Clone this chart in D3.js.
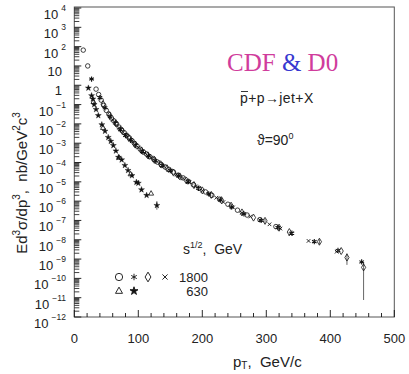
<!DOCTYPE html>
<html>
<head>
<meta charset="utf-8">
<script src="https://cdn.jsdelivr.net/npm/d3@7"></script>
<style>
  html, body { margin: 0; padding: 0; background: #fff; }
  svg text { font-family: "Liberation Sans", Arial, sans-serif; fill: #222; }
</style>
</head>
<body>
<div id="chart"></div>
<script>
// sqrt(s) = 1800 GeV, four data sets
const circlePt = [14, 21, 34, 38, 42, 46, 50, 54, 58, 62, 66, 70, 74, 78, 82, 86, 90, 94, 98, 103, 108, 113, 118, 124, 130, 136, 142, 148, 155, 162, 170, 178, 186, 195, 205, 215, 227, 240, 255, 270, 290, 315];
const circleVal = [66, 10, 0.63, 0.33, 0.17, 0.091, 0.05, 0.032, 0.020, 0.014, 0.010, 6.8e-3, 4.8e-3, 3.5e-3, 2.5e-3, 1.9e-3, 1.35e-3, 9.8e-4, 7.1e-4, 4.9e-4, 3.5e-4, 2.7e-4, 2.0e-4, 1.5e-4, 1.05e-4, 7.8e-5, 5.8e-5, 4.4e-5, 3.2e-5, 2.2e-5, 1.6e-5, 1.07e-5, 7.1e-6, 4.6e-6, 3.0e-6, 2.0e-6, 1.26e-6, 6.9e-7, 3.4e-7, 1.9e-7, 1.1e-7, 4.8e-8];

const asteriskPt = [27, 40, 48, 56, 64, 72, 80, 88, 96, 106, 116, 126, 137, 150, 163, 178, 194, 210, 228, 246, 265, 292, 318, 340, 375, 412, 449];
const asteriskVal = [2.1, 0.23, 0.068, 0.024, 0.011, 5.0e-3, 2.5e-3, 1.5e-3, 8.0e-4, 3.9e-4, 2.2e-4, 1.26e-4, 7.1e-5, 3.8e-5, 2.0e-5, 1.02e-5, 4.6e-6, 2.4e-6, 1.15e-6, 5.0e-7, 2.2e-7, 1.0e-7, 4.3e-8, 2.2e-8, 8.0e-9, 2.8e-9, 7.1e-10];

const diamondPt = [45, 55, 65, 75, 85, 95, 105, 115, 125, 135, 145, 155, 165, 175, 187, 200, 214, 230, 245, 262, 280, 298, 320, 336, 383, 417, 426, 452];
const diamondVal = [0.105, 0.028, 0.0107, 4.3e-3, 1.9e-3, 8.5e-4, 4.2e-4, 2.35e-4, 1.38e-4, 8.1e-5, 5.0e-5, 3.0e-5, 1.9e-5, 1.17e-5, 6.8e-6, 3.6e-6, 2.1e-6, 1.12e-6, 5.8e-7, 2.6e-7, 1.4e-7, 9.5e-8, 4.2e-8, 2.5e-8, 7.9e-9, 2.6e-9, 1.2e-9, 3.7e-10];
const diamondLo = [null, null, null, null, null, null, null, null, null, null, null, null, null, null, null, null, null, null, null, null, null, 7.5e-8, null, null, 5.6e-9, null, 5.0e-10, 7.6e-12];
const diamondHi = [null, null, null, null, null, null, null, null, null, null, null, null, null, null, null, null, null, null, null, null, null, 1.2e-7, null, null, 1.05e-8, null, 2.0e-9, 7.1e-10];

const crossPt = [60, 70, 80, 90, 100, 110, 120, 130, 140, 150, 160, 170, 180, 190, 200, 211, 222, 233, 248, 262, 275, 290, 305, 322, 338, 366, 410];
const crossVal = [0.016, 6.3e-3, 2.8e-3, 1.26e-3, 6.0e-4, 3.2e-4, 1.8e-4, 1.07e-4, 6.3e-5, 3.8e-5, 2.4e-5, 1.5e-5, 9.3e-6, 5.8e-6, 3.5e-6, 2.3e-6, 1.5e-6, 8.9e-7, 4.7e-7, 2.5e-7, 1.6e-7, 1.05e-7, 6.3e-8, 3.8e-8, 2.0e-8, 8.7e-9, 2.4e-9];

// sqrt(s) = 630 GeV
const starPt = [22, 27, 29, 31, 34, 37.5, 43, 48, 53, 57, 61, 65, 69, 74, 79, 84, 90, 97, 100, 105, 113, 129];
const starVal = [0.72, 0.29, 0.195, 0.1, 0.056, 0.027, 9.1e-3, 4.2e-3, 2.0e-3, 1.26e-3, 7.6e-4, 4.0e-4, 1.86e-4, 1.38e-4, 7.1e-5, 3.9e-5, 2.1e-5, 9.5e-6, 8.5e-6, 3.9e-6, 2.0e-6, 6.0e-7];
const starLo = [null, null, null, null, null, null, null, null, null, null, null, null, null, null, null, null, null, null, null, null, null, 3.6e-7];
const starHi = [null, null, null, null, null, null, null, null, null, null, null, null, null, null, null, null, null, null, null, null, null, 1.0e-6];

const trianglePt = [30, 45, 70, 88, 120];
const triangleVal = [0.14, 6.3e-3, 1.8e-4, 2.5e-5, 2.5e-6];

const xTicks = [0, 100, 200, 300, 400, 500];
const yExponents = d3.range(-12, 5);

const width = 409, height = 374;
const margin = { top: 8, right: 15, bottom: 57, left: 74.3 };
const plotW = 394.3 - margin.left;

const svg = d3.select('#chart').append('svg')
  .attr('width', width)
  .attr('height', height);

const x = d3.scaleLinear().domain([0, 500]).range([margin.left, margin.left + plotW]);
const y = d3.scaleLog().domain([1e-12, 1e4]).range([317, 8]);

// frame
svg.append('rect')
  .attr('x', x(0)).attr('y', 7)
  .attr('width', x(500) - x(0)).attr('height', 317 - 7)
  .attr('fill', 'none').attr('stroke', '#555').attr('stroke-width', 1);

// y ticks: decades and 2..9 minors
const yTickG = svg.append('g');
yExponents.forEach(e => {
  const base = Math.pow(10, e);
  yTickG.append('line')
    .attr('x1', x(0)).attr('x2', x(0) + 7)
    .attr('y1', y(base)).attr('y2', y(base))
    .attr('stroke', '#111').attr('stroke-width', 0.9);
  if (e < 4) {
    d3.range(2, 10).forEach(m => {
      yTickG.append('line')
        .attr('x1', x(0)).attr('x2', x(0) + 5)
        .attr('y1', y(m * base)).attr('y2', y(m * base))
        .attr('stroke', '#111').attr('stroke-width', 0.8);
    });
  }
});

// y labels
yExponents.forEach(e => {
  const ty = y(Math.pow(10, e));
  if (e === 0 || e === 1) {
    svg.append('text')
      .attr('x', 62).attr('y', ty + 10)
      .attr('text-anchor', 'end')
      .attr('font-size', 13)
      .text(e === 0 ? '1' : '10');
  } else {
    const t = svg.append('text')
      .attr('x', 66).attr('y', ty + 11)
      .attr('text-anchor', 'end')
      .attr('font-size', 13);
    t.append('tspan').text('10');
    t.append('tspan')
      .attr('dx', 3).attr('dy', -8)
      .attr('font-size', 8.5)
      .text(e < 0 ? '\u2212' + (-e) : e);
  }
});

// x ticks
const xTickG = svg.append('g');
d3.range(0, 501, 20).forEach(v => {
  const major = v % 100 === 0;
  xTickG.append('line')
    .attr('x1', x(v)).attr('x2', x(v))
    .attr('y1', 317).attr('y2', 317 - (major ? 7 : 4))
    .attr('stroke', '#111').attr('stroke-width', 0.9);
});
svg.selectAll('.xlab').data(xTicks).enter().append('text')
  .attr('class', 'xlab')
  .attr('x', d => x(d)).attr('y', 343)
  .attr('text-anchor', 'middle')
  .attr('font-size', 13)
  .text(d => d);

// axis titles
const xt = svg.append('text')
  .attr('x', 233).attr('y', 367)
  .attr('font-size', 15);
xt.append('tspan').text('p');
xt.append('tspan').attr('font-size', 10).attr('dy', 2).text('T');
xt.append('tspan').attr('dy', -2).text(',\u00a0\u00a0GeV/c');

const yt = svg.append('text')
  .attr('transform', 'translate(27,183) rotate(-90)')
  .attr('text-anchor', 'middle')
  .attr('font-size', 15);
[['Ed', 0], ['3', 1], ['\u03c3/dp', 0], ['3', 1], [',\u00a0\u00a0nb/GeV', 0], ['2', 1], ['c', 0], ['3', 1]].forEach(([s, sup], i, arr) => {
  const prevSup = i > 0 ? arr[i - 1][1] : 0;
  yt.append('tspan')
    .attr('font-size', sup ? 10 : 15)
    .attr('dy', sup ? -7 : (prevSup ? 7 : 0))
    .text(s);
});

// symbol types
const openCircle = { draw(c, s) { const r = Math.sqrt(s / Math.PI); c.moveTo(r, 0); c.arc(0, 0, r, 0, 2 * Math.PI); } };
const diamondT = { draw(c, s) { const r = Math.sqrt(s) * 0.75; c.moveTo(0, -r); c.lineTo(r * 0.6, 0); c.lineTo(0, r); c.lineTo(-r * 0.6, 0); c.closePath(); } };
const crossT = { draw(c, s) { const r = Math.sqrt(s) * 0.4; c.moveTo(-r, -r); c.lineTo(r, r); c.moveTo(r, -r); c.lineTo(-r, r); } };
const asteriskT = { draw(c, s) { const r = Math.sqrt(s) * 0.5; for (let k = 0; k < 3; k++) { const a = Math.PI / 2 + k * Math.PI / 3; c.moveTo(r * Math.cos(a), r * Math.sin(a)); c.lineTo(-r * Math.cos(a), -r * Math.sin(a)); } } };
const triangleT = { draw(c, s) { const r = Math.sqrt(s) * 0.6; c.moveTo(0, -r); c.lineTo(r * 0.9, r * 0.6); c.lineTo(-r * 0.9, r * 0.6); c.closePath(); } };

function errorBars(pts, lo, hi) {
  svg.append('g').selectAll('line')
    .data(pts.map((p, i) => [p, lo[i], hi[i]]).filter(d => d[1] != null))
    .enter().append('line')
    .attr('x1', d => x(d[0])).attr('x2', d => x(d[0]))
    .attr('y1', d => y(d[1])).attr('y2', d => y(d[2]))
    .attr('stroke', '#555').attr('stroke-width', 0.9);
}
errorBars(diamondPt, diamondLo, diamondHi);
errorBars(starPt, starLo, starHi);

function series(pts, vals, type, size, filled, sw) {
  const sym = d3.symbol().type(type).size(size);
  svg.append('g').selectAll('path')
    .data(pts.map((p, i) => [p, vals[i]]))
    .enter().append('path')
    .attr('transform', d => `translate(${x(d[0])},${y(d[1])})`)
    .attr('d', sym)
    .attr('fill', filled ? '#111' : 'none')
    .attr('stroke', '#111')
    .attr('stroke-width', sw);
}
series(circlePt, circleVal, openCircle, 16, false, 0.8);
series(diamondPt, diamondVal, diamondT, 22, false, 0.8);
series(crossPt, crossVal, crossT, 20, false, 0.9);
series(asteriskPt, asteriskVal, asteriskT, 28, false, 1.1);
series(trianglePt, triangleVal, triangleT, 22, false, 0.8);
series(starPt, starVal, d3.symbolStar, 11, true, 0.4);

// annotations
const title = svg.append('text')
  .attr('x', 227).attr('y', 71)
  .style('font-family', '"Liberation Serif", "Times New Roman", serif')
  .attr('font-size', 25);
title.append('tspan').style('fill', '#d03c9c').text('CDF ');
title.append('tspan').style('fill', '#3838d0').text('&');
title.append('tspan').style('fill', '#d03c9c').text(' D0');

const react = svg.append('text')
  .attr('x', 240).attr('y', 103)
  .attr('font-size', 14)
  .style('letter-spacing', '0.4px');
react.append('tspan').text('p');
react.append('tspan').text('+p\u2192jet+X');
svg.append('line')
  .attr('x1', 241).attr('x2', 248).attr('y1', 91.5).attr('y2', 91.5)
  .attr('stroke', '#222').attr('stroke-width', 0.9);

const ang = svg.append('text')
  .attr('x', 257).attr('y', 145)
  .attr('font-size', 14);
ang.append('tspan').text('\u03d1=90');
ang.append('tspan').attr('dy', -6).attr('font-size', 9).text('0');

const sq = svg.append('text')
  .attr('x', 183).attr('y', 254)
  .attr('font-size', 14);
sq.append('tspan').text('s');
sq.append('tspan').attr('dy', -6).attr('font-size', 9).text('1/2');
sq.append('tspan').attr('dy', 6).text(',\u00a0\u00a0GeV');

// legend
const legRows = [
  { yy: 277, syms: [[openCircle, 119, false], [asteriskT, 134, false], [diamondT, 148, false], [crossT, 165, false]], label: '1800' },
  { yy: 291, syms: [[triangleT, 119, false], [d3.symbolStar, 134, true]], label: '630' }
];
legRows.forEach(r => {
  r.syms.forEach(([t, sx, f]) => {
    svg.append('path')
      .attr('transform', `translate(${sx},${r.yy})`)
      .attr('d', d3.symbol().type(t).size(f ? 20 : 42)())
      .attr('fill', f ? '#111' : 'none')
      .attr('stroke', '#111').attr('stroke-width', 0.9);
  });
  svg.append('text')
    .attr('x', 208).attr('y', r.yy + 4.5)
    .attr('text-anchor', 'end')
    .attr('font-size', 13)
    .text(r.label);
});
</script>
</body>
</html>
